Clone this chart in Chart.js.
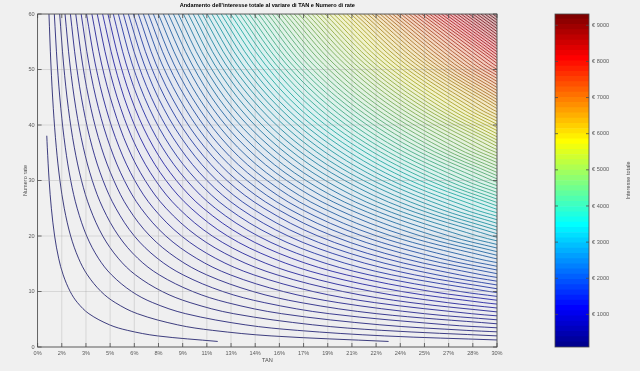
<!DOCTYPE html>
<html>
<head>
<meta charset="utf-8">
<script src="https://cdn.jsdelivr.net/npm/chart.js@4.4.0/dist/chart.umd.min.js"></script>
<style>
  html, body { margin: 0; padding: 0; background: #f0f0f0; }
  #wrap { position: relative; width: 640px; height: 371px; }
  #contour-chart { position: absolute; left: 0; top: 0; }
  #colorbar { position: absolute; left: 520px; top: 0; }
</style>
</head>
<body>
<div id="wrap">
  <canvas id="contour-chart" width="520" height="371" style="width:520px;height:371px"></canvas>
  <canvas id="colorbar" width="120" height="371" style="width:120px;height:371px"></canvas>
</div>
<script>
// TAN (%) columns and number of installments (rows) of the sampled surface
const tanGrid = [0.6, 5, 10, 15, 20, 25, 30];
const rateGrid = [1, 2, 3, 4, 6, 8, 10, 13, 16, 20, 25, 30, 36, 43, 51, 60];

// total interest (euro), one row for each entry of rateGrid
const interestGrid = [
  [5.0, 41.7, 83.3, 125.0, 166.7, 208.3, 250.0],
  [7.5, 62.5, 125.2, 187.9, 250.7, 313.6, 376.5],
  [10.0, 83.4, 167.1, 251.0, 335.2, 419.5, 504.1],
  [12.5, 104.4, 209.2, 314.4, 420.1, 526.2, 632.7],
  [17.5, 146.3, 293.7, 442.0, 591.4, 741.7, 893.0],
  [22.5, 188.4, 378.6, 570.7, 764.5, 960.0, 1157.4],
  [27.5, 230.6, 464.0, 700.3, 939.4, 1181.2, 1425.9],
  [35.0, 294.1, 593.0, 896.7, 1205.2, 1518.4, 1836.3],
  [42.6, 357.9, 723.0, 1095.5, 1475.1, 1861.9, 2255.8],
  [52.6, 443.3, 898.0, 1364.1, 1841.4, 2329.9, 2829.4],
  [65.1, 550.7, 1119.3, 1705.6, 2309.5, 2930.7, 3568.9],
  [77.7, 658.8, 1343.4, 2053.6, 2788.8, 3548.8, 4333.1],
  [92.8, 789.5, 1616.2, 2479.5, 3378.8, 4313.3, 5282.6],
  [110.4, 943.4, 1939.6, 2988.0, 4087.3, 5236.0, 6433.2],
  [130.5, 1120.9, 2316.1, 3584.2, 4923.3, 6330.7, 7803.4],
  [153.3, 1322.7, 2748.2, 4273.9, 5895.9, 7610.8, 9412.0]
];

// contour levels (euro)
const levels = [
  98, 191, 284, 377, 470, 563, 656, 750, 843, 936,
  1029, 1122, 1215, 1308, 1401, 1494, 1587, 1680, 1773, 1866,
  1959, 2052, 2145, 2239, 2332, 2425, 2518, 2611, 2704, 2797,
  2890, 2983, 3076, 3169, 3262, 3355, 3448, 3542, 3635, 3728,
  3821, 3914, 4007, 4100, 4193, 4286, 4379, 4472, 4565, 4658,
  4751, 4845, 4938, 5031, 5124, 5217, 5310, 5403, 5496, 5589,
  5682, 5775, 5868, 5961, 6054, 6147, 6241, 6334, 6427, 6520,
  6613, 6706, 6799, 6892, 6985, 7078, 7171, 7264, 7357, 7451,
  7544, 7637, 7730, 7823, 7916, 8009, 8102, 8195, 8288, 8381,
  8474, 8567, 8660, 8753, 8846, 8939, 9032, 9125, 9218, 9312
];

const xTickLabels = ['0%', '2%', '3%', '5%', '6%', '8%', '9%', '11%', '13%', '14%',
                     '16%', '17%', '19%', '21%', '22%', '24%', '25%', '27%', '28%', '30%'];
const yTickValues = [0, 10, 20, 30, 40, 50, 60];
const colorbarTicks = [1000, 2000, 3000, 4000, 5000, 6000, 7000, 8000, 9000];

const cMin = levels[0];
const cMax = levels[levels.length - 1];

Chart.defaults.font.family = "'Liberation Sans', Arial, sans-serif";
Chart.defaults.animation = false;

// matlab jet(64), index 1..64, as [r,g,b] 0..1
function jet64(i) {
  let r, g, b;
  if (i <= 24) r = 0; else if (i <= 40) r = (i - 24) / 16; else if (i <= 55) r = 1; else r = 1 - (i - 56) / 16;
  if (i <= 8) g = 0; else if (i <= 24) g = (i - 8) / 16; else if (i <= 39) g = 1; else if (i <= 55) g = (56 - i) / 16; else g = 0;
  if (i <= 8) b = (i + 8) / 16; else if (i <= 23) b = 1; else if (i <= 39) b = (40 - i) / 16; else b = 0;
  return [r, g, b];
}

function rgb(c) {
  return 'rgb(' + Math.round(c[0] * 255) + ',' + Math.round(c[1] * 255) + ',' + Math.round(c[2] * 255) + ')';
}

function levelIndex(L) {
  const i = Math.floor((L - cMin) / (cMax - cMin) * 64) + 1;
  return Math.max(1, Math.min(64, i));
}

// the contour lines look like a darker, duller jet
function lineColor(L) {
  const c = jet64(levelIndex(L));
  return rgb([c[0] * 0.58 + 0.06, c[1] * 0.58 + 0.06, c[2] * 0.5 + 0.1]);
}

// the faint surface under the lines, none at the low end
function bandColor(L) {
  const c = jet64(levelIndex(L));
  const t = (L - cMin) / (cMax - cMin);
  const a = 0.25 * t;
  const bg = 240 / 255;
  return rgb([bg + (c[0] - bg) * a, bg + (c[1] - bg) * a, bg + (c[2] - bg) * a]);
}

// where does the level L fall between two samples
function crossAlong(xs, vals, L) {
  for (let i = 0; i < xs.length - 1; i++) {
    if (L >= vals[i] && L <= vals[i + 1]) {
      return xs[i] + (L - vals[i]) / (vals[i + 1] - vals[i]) * (xs[i + 1] - xs[i]);
    }
  }
  return null;
}

function contourPoints(L) {
  const pts = [];
  interestGrid.forEach(function(row, j) {
    const t = crossAlong(tanGrid, row, L);
    if (t !== null) pts.push({ x: t, y: rateGrid[j] });
  });
  const last = tanGrid.length - 1;
  const nRight = crossAlong(rateGrid, interestGrid.map(function(r) { return r[last]; }), L);
  if (nRight !== null && rateGrid.indexOf(nRight) < 0) pts.push({ x: tanGrid[last], y: nRight });
  const nLeft = crossAlong(rateGrid, interestGrid.map(function(r) { return r[0]; }), L);
  if (nLeft !== null && rateGrid.indexOf(nLeft) < 0) pts.push({ x: tanGrid[0], y: nLeft });
  pts.sort(function(a, b) { return a.x - b.x; });
  return pts;
}

// highest level first: chart.js paints index 0 last, so higher bands cover lower ones
const contourSets = levels.slice().reverse().map(function(L) {
  return {
    data: contourPoints(L),
    borderColor: lineColor(L),
    backgroundColor: bandColor(L),
    borderWidth: 0.8,
    pointRadius: 0,
    showLine: true,
    tension: 0.35,
    fill: 'end'
  };
});

// grid on top of the bands, then the box with inward tick marks
const frameTicks = {
  id: 'frameTicks',
  afterDatasetsDraw(chart) {
    const ctx = chart.ctx, a = chart.chartArea;
    const x = chart.scales.x, y = chart.scales.y;
    ctx.save();
    ctx.strokeStyle = 'rgba(140,140,140,0.32)';
    ctx.lineWidth = 0.8;
    ctx.beginPath();
    x.ticks.forEach(function(t) {
      const px = x.getPixelForValue(t.value);
      ctx.moveTo(px, a.top); ctx.lineTo(px, a.bottom);
    });
    y.ticks.forEach(function(t) {
      const py = y.getPixelForValue(t.value);
      ctx.moveTo(a.left, py); ctx.lineTo(a.right, py);
    });
    ctx.stroke();

    ctx.strokeStyle = '#4a4a4a';
    ctx.lineWidth = 0.8;
    ctx.strokeRect(a.left, a.top, a.right - a.left, a.bottom - a.top);
    ctx.beginPath();
    x.ticks.forEach(function(t) {
      const px = x.getPixelForValue(t.value);
      ctx.moveTo(px, a.bottom); ctx.lineTo(px, a.bottom - 4);
      ctx.moveTo(px, a.top); ctx.lineTo(px, a.top + 4);
    });
    y.ticks.forEach(function(t) {
      const py = y.getPixelForValue(t.value);
      ctx.moveTo(a.left, py); ctx.lineTo(a.left + 4, py);
      ctx.moveTo(a.right, py); ctx.lineTo(a.right - 4, py);
    });
    ctx.stroke();
    ctx.restore();
  }
};

new Chart(document.getElementById('contour-chart'), {
  type: 'scatter',
  data: { datasets: contourSets },
  options: {
    responsive: false,
    devicePixelRatio: 1,
    layout: { padding: { left: 0, right: 23, top: 0, bottom: 0 } },
    plugins: {
      legend: { display: false },
      tooltip: { enabled: false },
      title: {
        display: true,
        fullSize: false,
        text: "Andamento dell'interesse totale al variare di TAN e Numero di rate",
        color: '#000',
        font: { size: 5.6, weight: 'bold' },
        padding: { top: 2, bottom: 5.3 }
      }
    },
    scales: {
      x: {
        type: 'linear',
        min: 0,
        max: 30,
        afterBuildTicks: function(scale) {
          scale.ticks = xTickLabels.map(function(l, i) {
            return { value: i * 30 / (xTickLabels.length - 1) };
          });
        },
        afterFit: function(scale) { scale.height = 24; },
        ticks: {
          autoSkip: false,
          maxRotation: 0,
          padding: 3,
          color: '#5a5a5a',
          font: { size: 5.6 },
          callback: function(value, index) { return xTickLabels[index]; }
        },
        grid: { display: false, drawTicks: false },
        border: { display: false },
        title: { display: true, text: 'TAN', color: '#4a4a4a', font: { size: 5.6 }, padding: { top: 0, bottom: 7.6 } }
      },
      y: {
        type: 'linear',
        min: 0,
        max: 60,
        afterBuildTicks: function(scale) {
          scale.ticks = yTickValues.map(function(v) { return { value: v }; });
        },
        afterFit: function(scale) { scale.width = 37.6; },
        ticks: { padding: 3, color: '#5a5a5a', font: { size: 5.6 } },
        grid: { display: false, drawTicks: false },
        border: { display: false },
        title: { display: true, text: 'Numero rate', color: '#4a4a4a', font: { size: 5.6 }, padding: { top: 21.6, bottom: 0 } }
      }
    }
  },
  plugins: [frameTicks]
});

// COLORBAR
const bandSets = [];
for (let i = 1; i <= 64; i++) {
  const lo = cMin + (i - 1) * (cMax - cMin) / 64;
  const hi = cMin + i * (cMax - cMin) / 64;
  bandSets.push({
    data: [[lo, hi]],
    backgroundColor: rgb(jet64(i)),
    borderWidth: 0,
    grouped: false,
    barPercentage: 1,
    categoryPercentage: 1
  });
}

const colorbarFrame = {
  id: 'colorbarFrame',
  afterDraw(chart) {
    const ctx = chart.ctx, a = chart.chartArea, y = chart.scales.y;
    ctx.save();
    ctx.strokeStyle = '#4a4a4a';
    ctx.lineWidth = 0.8;
    ctx.strokeRect(a.left, a.top, a.right - a.left, a.bottom - a.top);
    ctx.beginPath();
    colorbarTicks.forEach(function(v) {
      const py = y.getPixelForValue(v);
      ctx.moveTo(a.left, py); ctx.lineTo(a.left + 3, py);
      ctx.moveTo(a.right, py); ctx.lineTo(a.right - 3, py);
    });
    ctx.stroke();
    ctx.fillStyle = '#4a4a4a';
    ctx.font = "5.6px 'Liberation Sans', Arial, sans-serif";
    ctx.textAlign = 'center';
    ctx.textBaseline = 'middle';
    ctx.translate(108, (a.top + a.bottom) / 2);
    ctx.rotate(-Math.PI / 2);
    ctx.fillText('Interesse totale', 0, 0);
    ctx.restore();
  }
};

new Chart(document.getElementById('colorbar'), {
  type: 'bar',
  data: { labels: [''], datasets: bandSets },
  options: {
    responsive: false,
    devicePixelRatio: 1,
    layout: { padding: { left: 35, right: 0, top: 14, bottom: 24 } },
    plugins: { legend: { display: false }, tooltip: { enabled: false } },
    scales: {
      x: { display: false },
      y: {
        position: 'right',
        min: cMin,
        max: cMax,
        afterBuildTicks: function(scale) {
          scale.ticks = colorbarTicks.map(function(v) { return { value: v }; });
        },
        afterFit: function(scale) { scale.width = 51; },
        ticks: {
          padding: 3,
          color: '#5a5a5a',
          font: { size: 5.6 },
          callback: function(value) { return '€ ' + value; }
        },
        grid: { display: false, drawTicks: false },
        border: { display: false }
      }
    }
  },
  plugins: [colorbarFrame]
});
</script>
</body>
</html>
